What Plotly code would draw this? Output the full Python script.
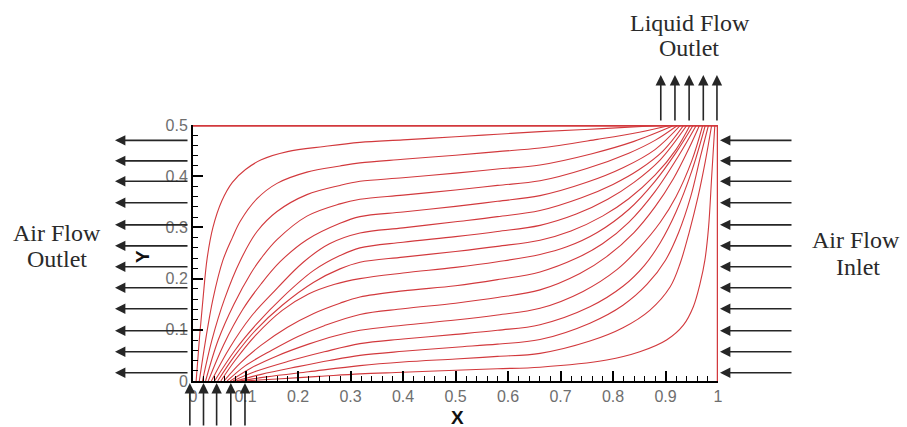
import plotly.graph_objects as go

# ---- streamline data (x, y), top-left line first ----
sl01_x = [0.006, 0.012, 0.019, 0.027, 0.038, 0.055, 0.075, 0.10, 0.13, 0.18, 0.25, 0.318, 0.4, 0.5, 0.58, 0.661, 0.78, 0.906]
sl01_y = [0.0, 0.08, 0.16, 0.24, 0.30, 0.352, 0.388, 0.413, 0.432, 0.448, 0.458, 0.466, 0.471, 0.477, 0.482, 0.487, 0.493, 0.5]
sl02_x = [0.012, 0.024, 0.038, 0.057, 0.075, 0.09, 0.122, 0.16, 0.217, 0.28, 0.318, 0.4, 0.5, 0.58, 0.661, 0.77, 0.85, 0.912]
sl02_y = [0.0, 0.08, 0.16, 0.236, 0.28, 0.312, 0.356, 0.386, 0.408, 0.42, 0.426, 0.433, 0.441, 0.448, 0.455, 0.472, 0.486, 0.5]
sl03_x = [0.018, 0.036, 0.06, 0.09, 0.122, 0.16, 0.217, 0.28, 0.318, 0.4, 0.5, 0.58, 0.661, 0.76, 0.84, 0.918]
sl03_y = [0.0, 0.08, 0.16, 0.235, 0.292, 0.331, 0.364, 0.382, 0.39, 0.397, 0.406, 0.414, 0.422, 0.444, 0.468, 0.5]
sl04_x = [0.024, 0.048, 0.078, 0.11, 0.13, 0.16, 0.217, 0.28, 0.318, 0.4, 0.5, 0.58, 0.661, 0.75, 0.83, 0.88, 0.924]
sl04_y = [0.0, 0.08, 0.15, 0.21, 0.24, 0.276, 0.322, 0.346, 0.355, 0.363, 0.373, 0.382, 0.391, 0.415, 0.445, 0.470, 0.5]
sl05_x = [0.029, 0.058, 0.095, 0.13, 0.166, 0.217, 0.28, 0.318, 0.4, 0.5, 0.58, 0.661, 0.75, 0.82, 0.88, 0.929]
sl05_y = [0.0, 0.07, 0.14, 0.19, 0.233, 0.276, 0.308, 0.321, 0.330, 0.341, 0.351, 0.362, 0.388, 0.417, 0.452, 0.5]
sl06_x = [0.035, 0.07, 0.11, 0.15, 0.21, 0.26, 0.318, 0.4, 0.5, 0.58, 0.661, 0.74, 0.8, 0.85, 0.895, 0.935]
sl06_y = [0.0, 0.065, 0.125, 0.17, 0.232, 0.268, 0.289, 0.299, 0.311, 0.321, 0.333, 0.358, 0.384, 0.413, 0.449, 0.5]
sl07_x = [0.041, 0.08, 0.12, 0.17, 0.23, 0.28, 0.318, 0.4, 0.5, 0.58, 0.661, 0.73, 0.79, 0.84, 0.89, 0.941]
sl07_y = [0.0, 0.06, 0.11, 0.163, 0.216, 0.245, 0.260, 0.271, 0.282, 0.292, 0.304, 0.326, 0.355, 0.388, 0.432, 0.5]
sl08_x = [0.047, 0.08, 0.12, 0.17, 0.23, 0.28, 0.318, 0.4, 0.5, 0.58, 0.661, 0.72, 0.78, 0.83, 0.88, 0.92, 0.947]
sl08_y = [0.0, 0.05, 0.10, 0.148, 0.193, 0.219, 0.232, 0.242, 0.253, 0.263, 0.275, 0.293, 0.322, 0.356, 0.402, 0.452, 0.5]
sl09_x = [0.053, 0.08, 0.12, 0.17, 0.22, 0.27, 0.318, 0.4, 0.5, 0.58, 0.661, 0.712, 0.77, 0.83, 0.88, 0.92, 0.953]
sl09_y = [0.0, 0.04, 0.09, 0.138, 0.17, 0.189, 0.200, 0.211, 0.222, 0.233, 0.247, 0.262, 0.29, 0.335, 0.39, 0.446, 0.5]
sl10_x = [0.059, 0.09, 0.13, 0.18, 0.23, 0.28, 0.318, 0.4, 0.5, 0.58, 0.661, 0.731, 0.78, 0.83, 0.88, 0.925, 0.959]
sl10_y = [0.0, 0.035, 0.07, 0.105, 0.132, 0.152, 0.164, 0.176, 0.186, 0.198, 0.213, 0.240, 0.268, 0.31, 0.37, 0.44, 0.5]
sl11_x = [0.065, 0.1, 0.15, 0.2, 0.25, 0.318, 0.4, 0.5, 0.58, 0.661, 0.737, 0.788, 0.84, 0.88, 0.915, 0.945, 0.965]
sl11_y = [0.0, 0.03, 0.06, 0.087, 0.108, 0.130, 0.141, 0.152, 0.163, 0.178, 0.210, 0.243, 0.29, 0.34, 0.395, 0.455, 0.5]
sl12_x = [0.071, 0.11, 0.16, 0.22, 0.27, 0.318, 0.4, 0.5, 0.58, 0.661, 0.743, 0.808, 0.85, 0.89, 0.92, 0.95, 0.971]
sl12_y = [0.0, 0.025, 0.049, 0.072, 0.088, 0.099, 0.109, 0.119, 0.129, 0.142, 0.175, 0.218, 0.26, 0.31, 0.36, 0.43, 0.5]
sl13_x = [0.076, 0.12, 0.18, 0.25, 0.318, 0.4, 0.5, 0.58, 0.661, 0.756, 0.819, 0.86, 0.89, 0.92, 0.95, 0.976]
sl13_y = [0.0, 0.019, 0.038, 0.057, 0.073, 0.082, 0.091, 0.099, 0.110, 0.145, 0.185, 0.226, 0.27, 0.33, 0.41, 0.5]
sl14_x = [0.082, 0.13, 0.2, 0.26, 0.318, 0.4, 0.5, 0.58, 0.661, 0.756, 0.819, 0.865, 0.9, 0.925, 0.948, 0.967, 0.982]
sl14_y = [0.0, 0.013, 0.028, 0.04, 0.050, 0.058, 0.066, 0.072, 0.081, 0.113, 0.148, 0.189, 0.236, 0.29, 0.36, 0.44, 0.5]
sl15_x = [0.088, 0.14, 0.22, 0.318, 0.4, 0.5, 0.58, 0.661, 0.756, 0.819, 0.870, 0.909, 0.928, 0.945, 0.962, 0.976, 0.988]
sl15_y = [0.0, 0.008, 0.018, 0.030, 0.037, 0.043, 0.048, 0.054, 0.078, 0.104, 0.138, 0.184, 0.230, 0.29, 0.36, 0.43, 0.5]
sl16_x = [0.094, 0.16, 0.24, 0.318, 0.4, 0.5, 0.58, 0.661, 0.788, 0.851, 0.902, 0.934, 0.953, 0.966, 0.975, 0.982, 0.988, 0.994]
sl16_y = [0.0, 0.004, 0.009, 0.014, 0.017, 0.021, 0.024, 0.027, 0.041, 0.057, 0.080, 0.109, 0.145, 0.191, 0.236, 0.30, 0.40, 0.5]

# boundary streamlines (top wall and right wall)
top_x = [0.0, 1.0]
top_y = [0.5, 0.5]
right_x = [1.0, 1.0]
right_y = [0.0, 0.5]

# flow arrows (data units)
side_arrow_y = [0.47, 0.43, 0.39, 0.348, 0.305, 0.264, 0.223, 0.182, 0.141, 0.098, 0.057, 0.016]
top_arrow_x = [0.891, 0.918, 0.945, 0.972, 0.998]
bottom_arrow_x = [-0.006, 0.020, 0.045, 0.072, 0.099]

x_ticks = [0, 0.1, 0.2, 0.3, 0.4, 0.5, 0.6, 0.7, 0.8, 0.9, 1]
y_ticks = [0, 0.1, 0.2, 0.3, 0.4, 0.5]

streamlines = [
    (sl01_x, sl01_y), (sl02_x, sl02_y), (sl03_x, sl03_y), (sl04_x, sl04_y),
    (sl05_x, sl05_y), (sl06_x, sl06_y), (sl07_x, sl07_y), (sl08_x, sl08_y),
    (sl09_x, sl09_y), (sl10_x, sl10_y), (sl11_x, sl11_y), (sl12_x, sl12_y),
    (sl13_x, sl13_y), (sl14_x, sl14_y), (sl15_x, sl15_y), (sl16_x, sl16_y),
]

RED = "#d2393d"
W, H = 907, 427
L, R, T, B = 193, 189, 125, 46
PW, PH = W - L - R, H - T - B


def px_x(px):
    return (px - L) / PW


def px_y(py):
    return (H - B - py) / PH


fig = go.Figure()
for sx, sy in streamlines:
    fig.add_trace(go.Scatter(x=sx, y=sy, mode="lines",
                             line=dict(color=RED, width=1.1, shape="spline", smoothing=1.0),
                             hoverinfo="skip", showlegend=False))
fig.add_trace(go.Scatter(x=top_x, y=top_y, mode="lines", line=dict(color=RED, width=3.5),
                         showlegend=False, hoverinfo="skip"))
fig.add_trace(go.Scatter(x=right_x, y=right_y, mode="lines", line=dict(color=RED, width=2.5),
                         showlegend=False, hoverinfo="skip"))

ann = []
ARROW = dict(text="", showarrow=True, arrowhead=2, arrowsize=1.3, arrowwidth=1.6,
             arrowcolor="#262626", xref="paper", yref="paper")
for yv in side_arrow_y:
    ann.append(dict(ARROW, x=px_x(115), y=yv / 0.5, ax=74, ay=0))
    ann.append(dict(ARROW, x=px_x(720), y=yv / 0.5, ax=73, ay=0))
for xv in top_arrow_x:
    ann.append(dict(ARROW, x=xv, y=px_y(75), ax=0, ay=47))
for xv in bottom_arrow_x:
    ann.append(dict(ARROW, x=xv, y=px_y(383), ax=0, ay=48))

SERIF = dict(family="Liberation Serif, Times New Roman, serif", size=24, color="#2a2a2a")
labels = [
    ("Liquid Flow", 690, 23), ("Outlet", 689, 48),
    ("Air Flow", 57, 233), ("Outlet", 57, 259),
    ("Air Flow", 856, 240), ("Inlet", 858, 267),
]
for txt, cx, cy in labels:
    ann.append(dict(text=txt, x=px_x(cx), y=px_y(cy), xref="paper", yref="paper",
                    showarrow=False, xanchor="center", yanchor="middle", font=SERIF))

SANSB = dict(family="Liberation Sans, Arial, sans-serif", size=19, color="#111111")
ann.append(dict(text="<b>X</b>", x=px_x(457), y=px_y(417), xref="paper", yref="paper",
                showarrow=False, xanchor="center", yanchor="middle", font=SANSB))
ann.append(dict(text="<b>Y</b>", x=px_x(142), y=px_y(257), xref="paper", yref="paper",
                showarrow=False, xanchor="center", yanchor="middle", font=SANSB, textangle=-90))

TICKFONT = dict(family="Liberation Sans, Arial, sans-serif", size=16, color="#6e6e6e")
axis_common = dict(showgrid=False, zeroline=False, showline=True, linecolor="black", linewidth=2,
                   ticks="inside", ticklen=10, tickwidth=1.5, tickcolor="black",
                   tickfont=TICKFONT, mirror=False, fixedrange=True)

fig.update_layout(
    width=W, height=H,
    margin=dict(l=L, r=R, t=T, b=B, pad=0),
    paper_bgcolor="white", plot_bgcolor="white",
    showlegend=False,
    annotations=ann,
    xaxis=dict(axis_common, range=[0, 1], tickvals=x_ticks,
               ticktext=[f"{v:g}" for v in x_ticks], ticklabelstandoff=0,
               minor=dict(dtick=0.02, ticks="inside", ticklen=5, tickwidth=1.2, tickcolor="black")),
    yaxis=dict(axis_common, range=[0, 0.5], tickvals=y_ticks,
               ticktext=[f"{v:g}" for v in y_ticks],
               minor=dict(dtick=0.02, ticks="inside", ticklen=5, tickwidth=1.2, tickcolor="black")),
)

fig.write_html("out.html")
